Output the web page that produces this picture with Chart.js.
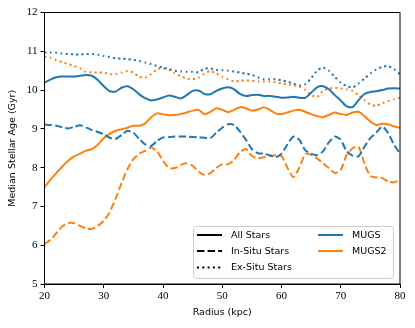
<!DOCTYPE html>
<html>
<head>
<meta charset="utf-8">
<script src="https://cdn.jsdelivr.net/npm/chart.js@4.4.1/dist/chart.umd.min.js"></script>
<style>
  html, body { margin: 0; padding: 0; background: #fff; }
  #wrap { width: 415px; height: 328px; position: relative; }
</style>
</head>
<body>
<div id="wrap"><canvas id="c" width="415" height="328"></canvas></div>
<script>
const radius = [20,21,22,23,24,25,26,27,28,29,30,31,32,33,34,35,36,37,38,39,40,41,42,43,44,45,46,47,48,49,50,51,52,53,54,55,56,57,58,59,60,61,62,63,64,65,66,67,68,69,70,71,72,73,74,75,76,77,78,79,80];

const mugsAll = [10.19,10.27,10.33,10.35,10.35,10.35,10.37,10.39,10.37,10.26,10.10,9.97,9.96,10.06,10.10,10.02,9.89,9.79,9.73,9.76,9.81,9.86,9.83,9.78,9.87,9.98,9.99,9.90,9.89,9.98,10.04,10.07,10.02,9.90,9.85,9.87,9.88,9.85,9.85,9.83,9.80,9.81,9.83,9.80,9.80,9.93,10.07,10.10,10.02,9.87,9.73,9.58,9.56,9.74,9.90,9.95,9.97,10.00,10.04,10.05,10.04];
const mugsIn = [9.11,9.10,9.08,9.04,9.01,9.05,9.09,9.04,8.97,8.92,8.86,8.77,8.74,8.84,8.95,8.90,8.74,8.60,8.56,8.69,8.78,8.79,8.80,8.80,8.80,8.79,8.78,8.77,8.76,8.90,9.03,9.12,9.10,8.93,8.72,8.48,8.37,8.36,8.32,8.27,8.36,8.60,8.80,8.72,8.45,8.36,8.32,8.42,8.65,8.80,8.72,8.42,8.31,8.29,8.54,8.76,8.90,9.06,8.89,8.59,8.36];
const mugsEx = [10.97,10.97,10.96,10.94,10.93,10.92,10.92,10.93,10.93,10.91,10.88,10.85,10.82,10.81,10.80,10.78,10.75,10.71,10.67,10.62,10.58,10.54,10.50,10.48,10.47,10.47,10.46,10.55,10.56,10.52,10.51,10.50,10.48,10.45,10.42,10.39,10.33,10.28,10.28,10.28,10.25,10.22,10.17,10.12,10.15,10.30,10.50,10.58,10.50,10.34,10.19,10.10,10.07,10.17,10.30,10.43,10.53,10.60,10.62,10.54,10.41];

const mugs2All = [7.49,7.69,7.86,8.03,8.18,8.29,8.36,8.44,8.48,8.59,8.76,8.87,8.95,8.99,9.03,9.08,9.08,9.14,9.30,9.40,9.38,9.35,9.36,9.38,9.42,9.47,9.49,9.38,9.44,9.53,9.49,9.43,9.49,9.56,9.53,9.47,9.50,9.56,9.49,9.40,9.38,9.42,9.47,9.49,9.44,9.38,9.33,9.30,9.36,9.42,9.38,9.36,9.42,9.44,9.33,9.19,9.10,9.13,9.12,9.06,9.03];
const mugs2In = [6.03,6.14,6.31,6.49,6.57,6.57,6.50,6.43,6.42,6.50,6.63,6.85,7.20,7.60,7.96,8.22,8.36,8.43,8.52,8.42,8.18,7.99,7.99,8.07,8.11,8.05,7.90,7.81,7.86,7.99,8.09,8.09,8.20,8.40,8.48,8.30,8.24,8.27,8.30,8.32,8.30,8.00,7.75,8.00,8.35,8.33,8.24,8.11,7.99,7.86,7.94,8.33,8.50,8.54,8.11,7.78,7.75,7.73,7.64,7.62,7.69];
const mugs2Ex = [10.86,10.84,10.77,10.72,10.67,10.62,10.56,10.47,10.46,10.45,10.45,10.41,10.41,10.45,10.49,10.45,10.34,10.32,10.41,10.54,10.56,10.52,10.43,10.36,10.30,10.28,10.32,10.43,10.49,10.43,10.34,10.28,10.22,10.24,10.25,10.24,10.22,10.22,10.22,10.20,10.17,10.15,10.13,10.09,10.00,9.87,9.82,9.98,10.04,10.06,10.04,10.02,9.98,9.87,9.74,9.63,9.59,9.66,9.72,9.76,9.80];

const xTicks = [20,30,40,50,60,70,80];
const yTicks = [5,6,7,8,9,10,11,12];
const styleLabels = ['All Stars','In-Situ Stars','Ex-Situ Stars'];
const simLabels = ['MUGS','MUGS2'];
const xTitle = 'Radius (kpc)';
const yTitle = 'Median Stellar Age (Gyr)';

const BLUE = '#1f77b4', ORANGE = '#ff7f0e';
const DASH = { solid: [], dashed: [7.4, 3.2], dotted: [2, 3.3] };

function ds(label, values, color, dash) {
  return {
    label,
    data: radius.map((r, i) => ({ x: r, y: values[i] })),
    borderColor: color,
    backgroundColor: color,
    borderWidth: 2,
    borderDash: dash,
    borderCapStyle: 'butt',
    borderJoinStyle: 'round',
    pointRadius: 0,
    tension: 0.2,
    fill: false
  };
}

const frame = {
  id: 'frame',
  afterDraw(chart) {
    const { ctx, chartArea: a } = chart;
    ctx.save();
    ctx.strokeStyle = '#000';
    ctx.lineWidth = 1;
    ctx.strokeRect(a.left, a.top, a.right - a.left, a.bottom - a.top);
    ctx.restore();
  }
};

const legendBox = {
  id: 'legendBox',
  afterDatasetsDraw(chart) {
    const { ctx } = chart;
    const bx = 193.5, by = 226.5, bw = 200, bh = 52, r = 3;
    ctx.save();
    ctx.beginPath();
    ctx.moveTo(bx + r, by);
    ctx.lineTo(bx + bw - r, by); ctx.arcTo(bx + bw, by, bx + bw, by + r, r);
    ctx.lineTo(bx + bw, by + bh - r); ctx.arcTo(bx + bw, by + bh, bx + bw - r, by + bh, r);
    ctx.lineTo(bx + r, by + bh); ctx.arcTo(bx, by + bh, bx, by + bh - r, r);
    ctx.lineTo(bx, by + r); ctx.arcTo(bx, by, bx + r, by, r);
    ctx.closePath();
    ctx.fillStyle = 'rgba(255,255,255,0.8)';
    ctx.fill();
    ctx.strokeStyle = '#cccccc';
    ctx.lineWidth = 1;
    ctx.stroke();

    const rows = [235, 251, 267.5];
    const dashes = [DASH.solid, DASH.dashed, DASH.dotted];
    ctx.font = '9.5px "DejaVu Sans"';
    ctx.textBaseline = 'middle';
    ctx.textAlign = 'left';
    ctx.lineWidth = 2;
    ctx.lineCap = 'butt';
    styleLabels.forEach((t, i) => {
      ctx.setLineDash(dashes[i]);
      ctx.strokeStyle = '#000';
      ctx.beginPath(); ctx.moveTo(197, rows[i]); ctx.lineTo(222, rows[i]); ctx.stroke();
      ctx.fillStyle = '#000';
      ctx.fillText(t, 231, rows[i] + 0.5);
    });
    const cols = [BLUE, ORANGE];
    simLabels.forEach((t, i) => {
      ctx.setLineDash([]);
      ctx.strokeStyle = cols[i];
      ctx.beginPath(); ctx.moveTo(318, rows[i]); ctx.lineTo(343, rows[i]); ctx.stroke();
      ctx.fillStyle = '#000';
      ctx.fillText(t, 352, rows[i] + 0.5);
    });
    ctx.restore();
  }
};

new Chart(document.getElementById('c'), {
  type: 'line',
  data: {
    datasets: [
      ds('MUGS All', mugsAll, BLUE, DASH.solid),
      ds('MUGS In', mugsIn, BLUE, DASH.dashed),
      ds('MUGS Ex', mugsEx, BLUE, DASH.dotted),
      ds('MUGS2 All', mugs2All, ORANGE, DASH.solid),
      ds('MUGS2 In', mugs2In, ORANGE, DASH.dashed),
      ds('MUGS2 Ex', mugs2Ex, ORANGE, DASH.dotted)
    ]
  },
  options: {
    responsive: false,
    animation: false,
    devicePixelRatio: 1,
    layout: { padding: { left: 0, right: 15, top: 12.5, bottom: 0 } },
    plugins: { legend: { display: false }, tooltip: { enabled: false } },
    scales: {
      x: {
        type: 'linear',
        min: 20, max: 80,
        afterBuildTicks: s => { s.ticks = xTicks.map(v => ({ value: v })); },
        afterFit: s => { s.height = 44; },
        grid: { drawOnChartArea: false, tickLength: 4, tickColor: '#000', tickWidth: 1 },
        border: { display: true, color: '#000', width: 1 },
        ticks: { color: '#000', font: { family: '"Liberation Serif"', size: 11 }, padding: 2, maxRotation: 0 },
        title: { display: true, text: xTitle, color: '#000', font: { family: '"DejaVu Sans"', size: 9.5 }, padding: { top: 0, bottom: 9.3 } }
      },
      y: {
        type: 'linear',
        min: 5, max: 12,
        afterBuildTicks: s => { s.ticks = yTicks.map(v => ({ value: v })); },
        afterFit: s => { s.width = 44.5; },
        grid: { drawOnChartArea: false, tickLength: 4, tickColor: '#000', tickWidth: 1 },
        border: { display: true, color: '#000', width: 1 },
        ticks: { color: '#000', font: { family: '"Liberation Serif"', size: 11 }, padding: 3 },
        title: { display: true, text: yTitle, color: '#000', font: { family: '"DejaVu Sans"', size: 9.5 }, padding: { top: 7.3, bottom: 0 } }
      }
    }
  },
  plugins: [frame, legendBox]
});
</script>
</body>
</html>
